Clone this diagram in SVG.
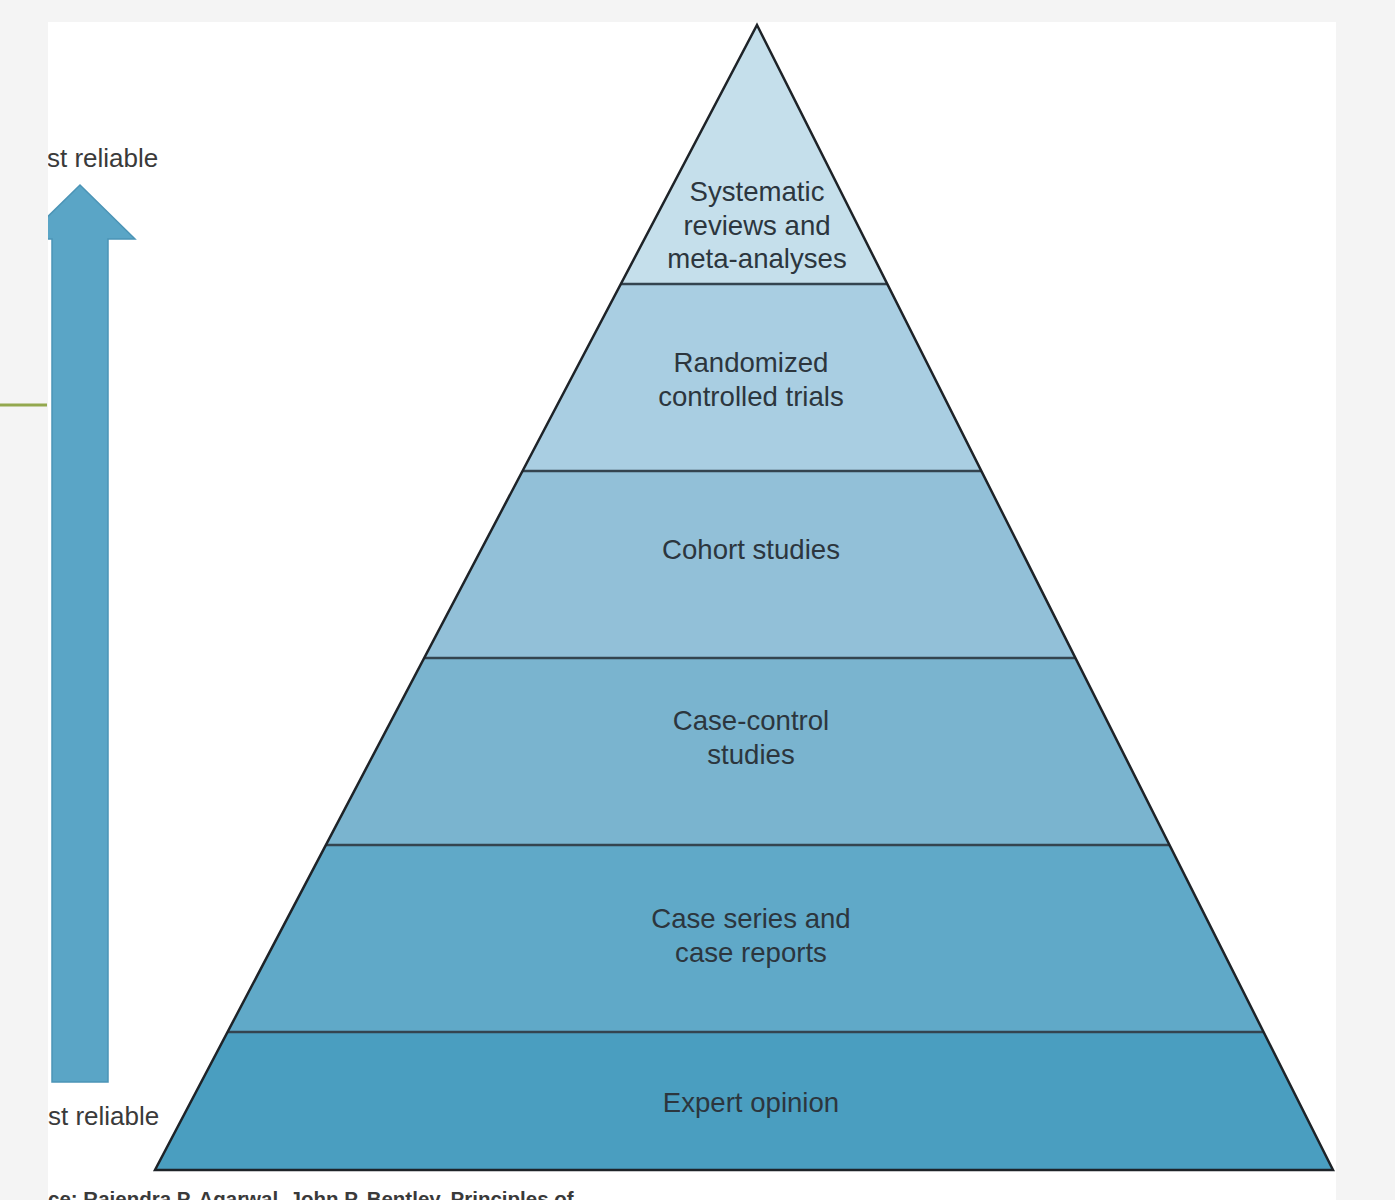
<svg xmlns="http://www.w3.org/2000/svg" width="1395" height="1200" viewBox="0 0 1395 1200">
  <defs>
    <clipPath id="page"><rect x="48" y="22" width="1288" height="1178"/></clipPath>
    <style>
      .lbl { font-family: "Liberation Sans", Arial, sans-serif; font-size: 27.6px; fill: #2c363e; text-anchor: middle; }
      .side { font-family: "Liberation Sans", Arial, sans-serif; font-size: 26px; fill: #3a3a3a; }
      .band { stroke: none; }
      .sep { stroke: #34444f; stroke-width: 2.5; }
    </style>
  </defs>
  <rect x="0" y="0" width="1395" height="1200" fill="#f4f4f4"/>
  <rect x="48" y="22" width="1288" height="1178" fill="#ffffff"/>
  <line x1="0" y1="405" x2="47" y2="405" stroke="#93a84e" stroke-width="3"/>

  <g id="arrow" clip-path="url(#page)">
    <polygon points="52,1082 52,239 25,239 80,185 135,239 108,239 108,1082" fill="#5aa5c6" stroke="#4b94b6" stroke-width="1.5"/>
  </g>
  <g id="label-most" clip-path="url(#page)">
    <text class="side" x="47" y="167">st reliable</text>
  </g>
  <g id="label-least" clip-path="url(#page)">
    <text class="side" x="48" y="1125" font-size="26.5">st reliable</text>
  </g>

  <g id="pyramid">
    <g id="level-1">
      <polygon class="band" points="757,25 621,284 887,284" fill="#c5dfeb"/>
      <text class="lbl" x="757" y="201">Systematic</text>
      <text class="lbl" x="757" y="235">reviews and</text>
      <text class="lbl" x="757" y="268">meta-analyses</text>
    </g>
    <g id="level-2">
      <polygon class="band" points="621,284 887,284 981,471 523,471" fill="#a9cee2"/>
      <text class="lbl" x="751" y="372">Randomized</text>
      <text class="lbl" x="751" y="406">controlled trials</text>
    </g>
    <g id="level-3">
      <polygon class="band" points="523,471 981,471 1075,658 425,658" fill="#92c0d8"/>
      <text class="lbl" x="751" y="559">Cohort studies</text>
    </g>
    <g id="level-4">
      <polygon class="band" points="425,658 1075,658 1169,845 326,845" fill="#7ab4cf"/>
      <text class="lbl" x="751" y="730">Case-control</text>
      <text class="lbl" x="751" y="764">studies</text>
    </g>
    <g id="level-5">
      <polygon class="band" points="326,845 1169,845 1263,1032 228,1032" fill="#60a9c8"/>
      <text class="lbl" x="751" y="928">Case series and</text>
      <text class="lbl" x="751" y="962">case reports</text>
    </g>
    <g id="level-6">
      <polygon class="band" points="228,1032 1263,1032 1333,1170 155,1170" fill="#4a9ec0"/>
      <text class="lbl" x="751" y="1112">Expert opinion</text>
    </g>
  </g>

  <g id="connectors">
    <line class="sep" x1="621" y1="284" x2="887" y2="284"/>
    <line class="sep" x1="523" y1="471" x2="981" y2="471"/>
    <line class="sep" x1="425" y1="658" x2="1075" y2="658"/>
    <line class="sep" x1="326" y1="845" x2="1169" y2="845"/>
    <line class="sep" x1="228" y1="1032" x2="1263" y2="1032"/>
    <polygon points="757,25 1333,1170 155,1170" fill="none" stroke="#1e2328" stroke-width="2.5" stroke-linejoin="miter"/>
  </g>

  <g id="citation" clip-path="url(#page)">
    <text x="48" y="1206" font-family="Liberation Sans, Arial, sans-serif" font-size="20.5" font-weight="bold" fill="#3a3a3a">ce: Rajendra P. Agarwal, John P. Bentley. Principles of</text>
  </g>
</svg>
